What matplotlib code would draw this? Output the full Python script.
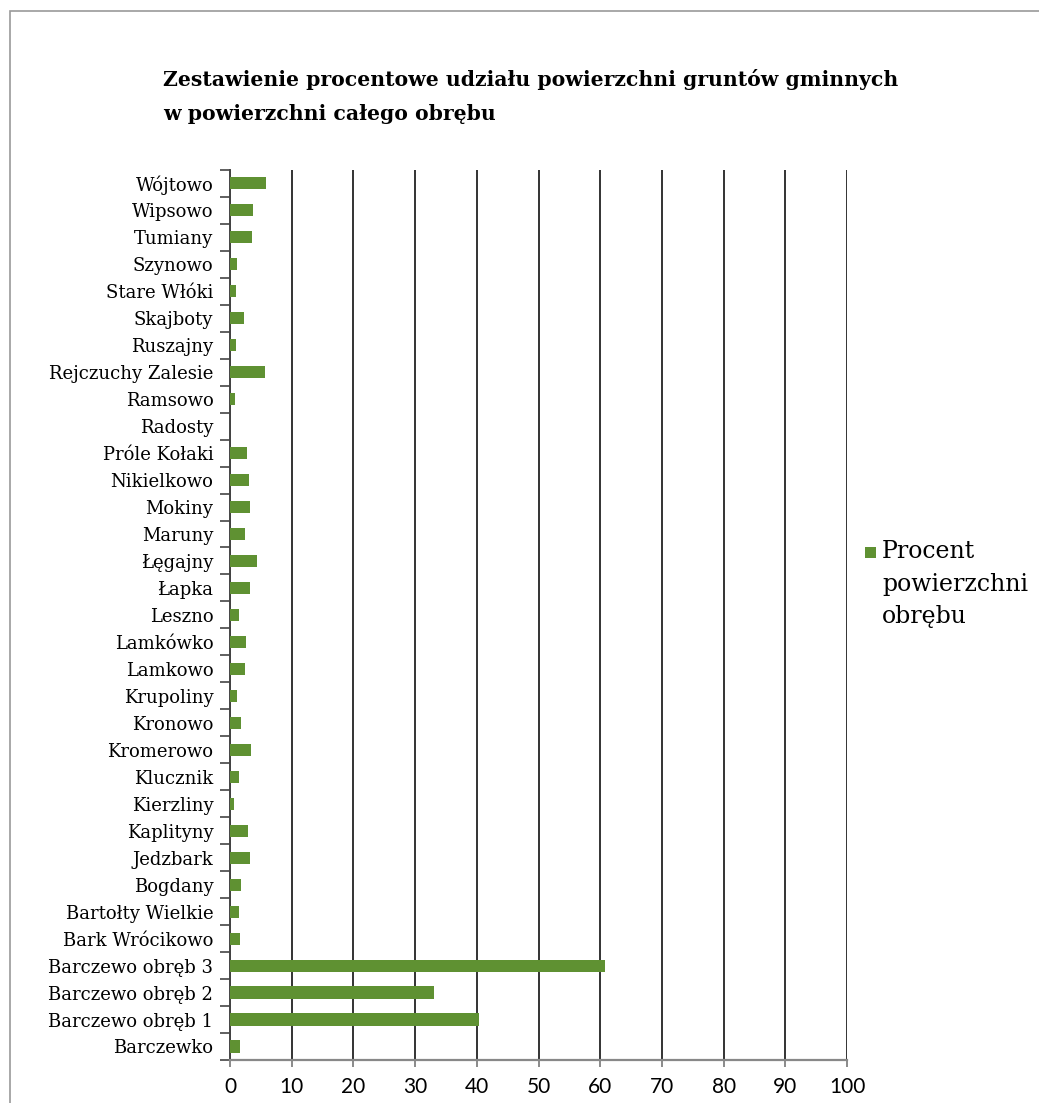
import matplotlib.pyplot as plt
from matplotlib.patches import Rectangle

# categories from bottom to top (as drawn)
obreby = ['Barczewko', 'Barczewo obręb 1', 'Barczewo obręb 2', 'Barczewo obręb 3',
          'Bark Wrócikowo', 'Bartołty Wielkie', 'Bogdany', 'Jedzbark', 'Kaplityny',
          'Kierzliny', 'Klucznik', 'Kromerowo', 'Kronowo', 'Krupoliny', 'Lamkowo',
          'Lamkówko', 'Leszno', 'Łapka', 'Łęgajny', 'Maruny', 'Mokiny', 'Nikielkowo',
          'Próle Kołaki', 'Radosty', 'Ramsowo', 'Rejczuchy Zalesie', 'Ruszajny',
          'Skajboty', 'Stare Włóki', 'Szynowo', 'Tumiany', 'Wipsowo', 'Wójtowo']
procent = [1.6, 40.4, 33.0, 60.8,
           1.6, 1.4, 1.8, 3.3, 2.9,
           0.6, 1.4, 3.4, 1.8, 1.2, 2.4,
           2.6, 1.4, 3.3, 4.3, 2.4, 3.3, 3.0,
           2.7, 0.0, 0.8, 5.7, 0.9,
           2.3, 0.9, 1.2, 3.6, 3.7, 5.8]
x_ticks = [0, 10, 20, 30, 40, 50, 60, 70, 80, 90, 100]

serif = ['DejaVu Serif']
green = '#5f9132'

fig = plt.figure(figsize=(10.39, 11.03), dpi=100)
fig.patches.append(Rectangle((0.0096, -0.01), 1.1, 1.0, transform=fig.transFigure,
                             fill=False, edgecolor='#9a9a9a', linewidth=1.2))

ax = fig.add_axes([0.2214, 0.0390, 0.5938, 0.8070])
ypos = list(range(len(obreby)))
ax.barh(ypos, procent, height=0.45, color=green, zorder=3)

ax.set_xlim(0, 100)
ax.set_ylim(-0.5, len(obreby) - 0.5)
ax.set_xticks(x_ticks)
ax.set_xticklabels([str(v) for v in x_ticks], fontsize=15, family=['Lato', 'DejaVu Sans'])
ax.set_yticks(ypos)
ax.set_yticklabels(obreby, fontsize=13, family=serif)
ax.set_yticks([i - 0.5 for i in range(len(obreby) + 1)], minor=True)
ax.tick_params(axis='y', which='major', length=0, pad=12)
ax.tick_params(axis='y', which='minor', length=7, color='#444444', width=1.2)
ax.tick_params(axis='x', length=5, color='#777777', width=1.2, pad=7)

ax.grid(axis='x', color='#333333', linewidth=1.4, zorder=0)
for side in ['top', 'right']:
    ax.spines[side].set_visible(False)
ax.spines['left'].set_color('#444444')
ax.spines['left'].set_linewidth(1.4)
ax.spines['bottom'].set_color('#888888')
ax.spines['bottom'].set_linewidth(1.6)

fig.text(0.157, 0.937, 'Zestawienie procentowe udziału powierzchni gruntów gminnych\nw powierzchni całego obrębu',
         fontsize=14.7, fontweight='bold', family=serif, va='top', ha='left', linespacing=1.85)

# legend: square next to the first line of a three-line label
fig.patches.append(Rectangle((865 / 1039, 1 - 558 / 1103), 11 / 1039, 11 / 1103,
                             transform=fig.transFigure, facecolor=green, edgecolor='none'))
fig.text(882 / 1039, 1 - 540 / 1103, 'Procent\npowierzchni\nobrębu', fontsize=17,
         family=serif, va='top', ha='left', linespacing=1.53)

plt.savefig('out.png', dpi=100)
